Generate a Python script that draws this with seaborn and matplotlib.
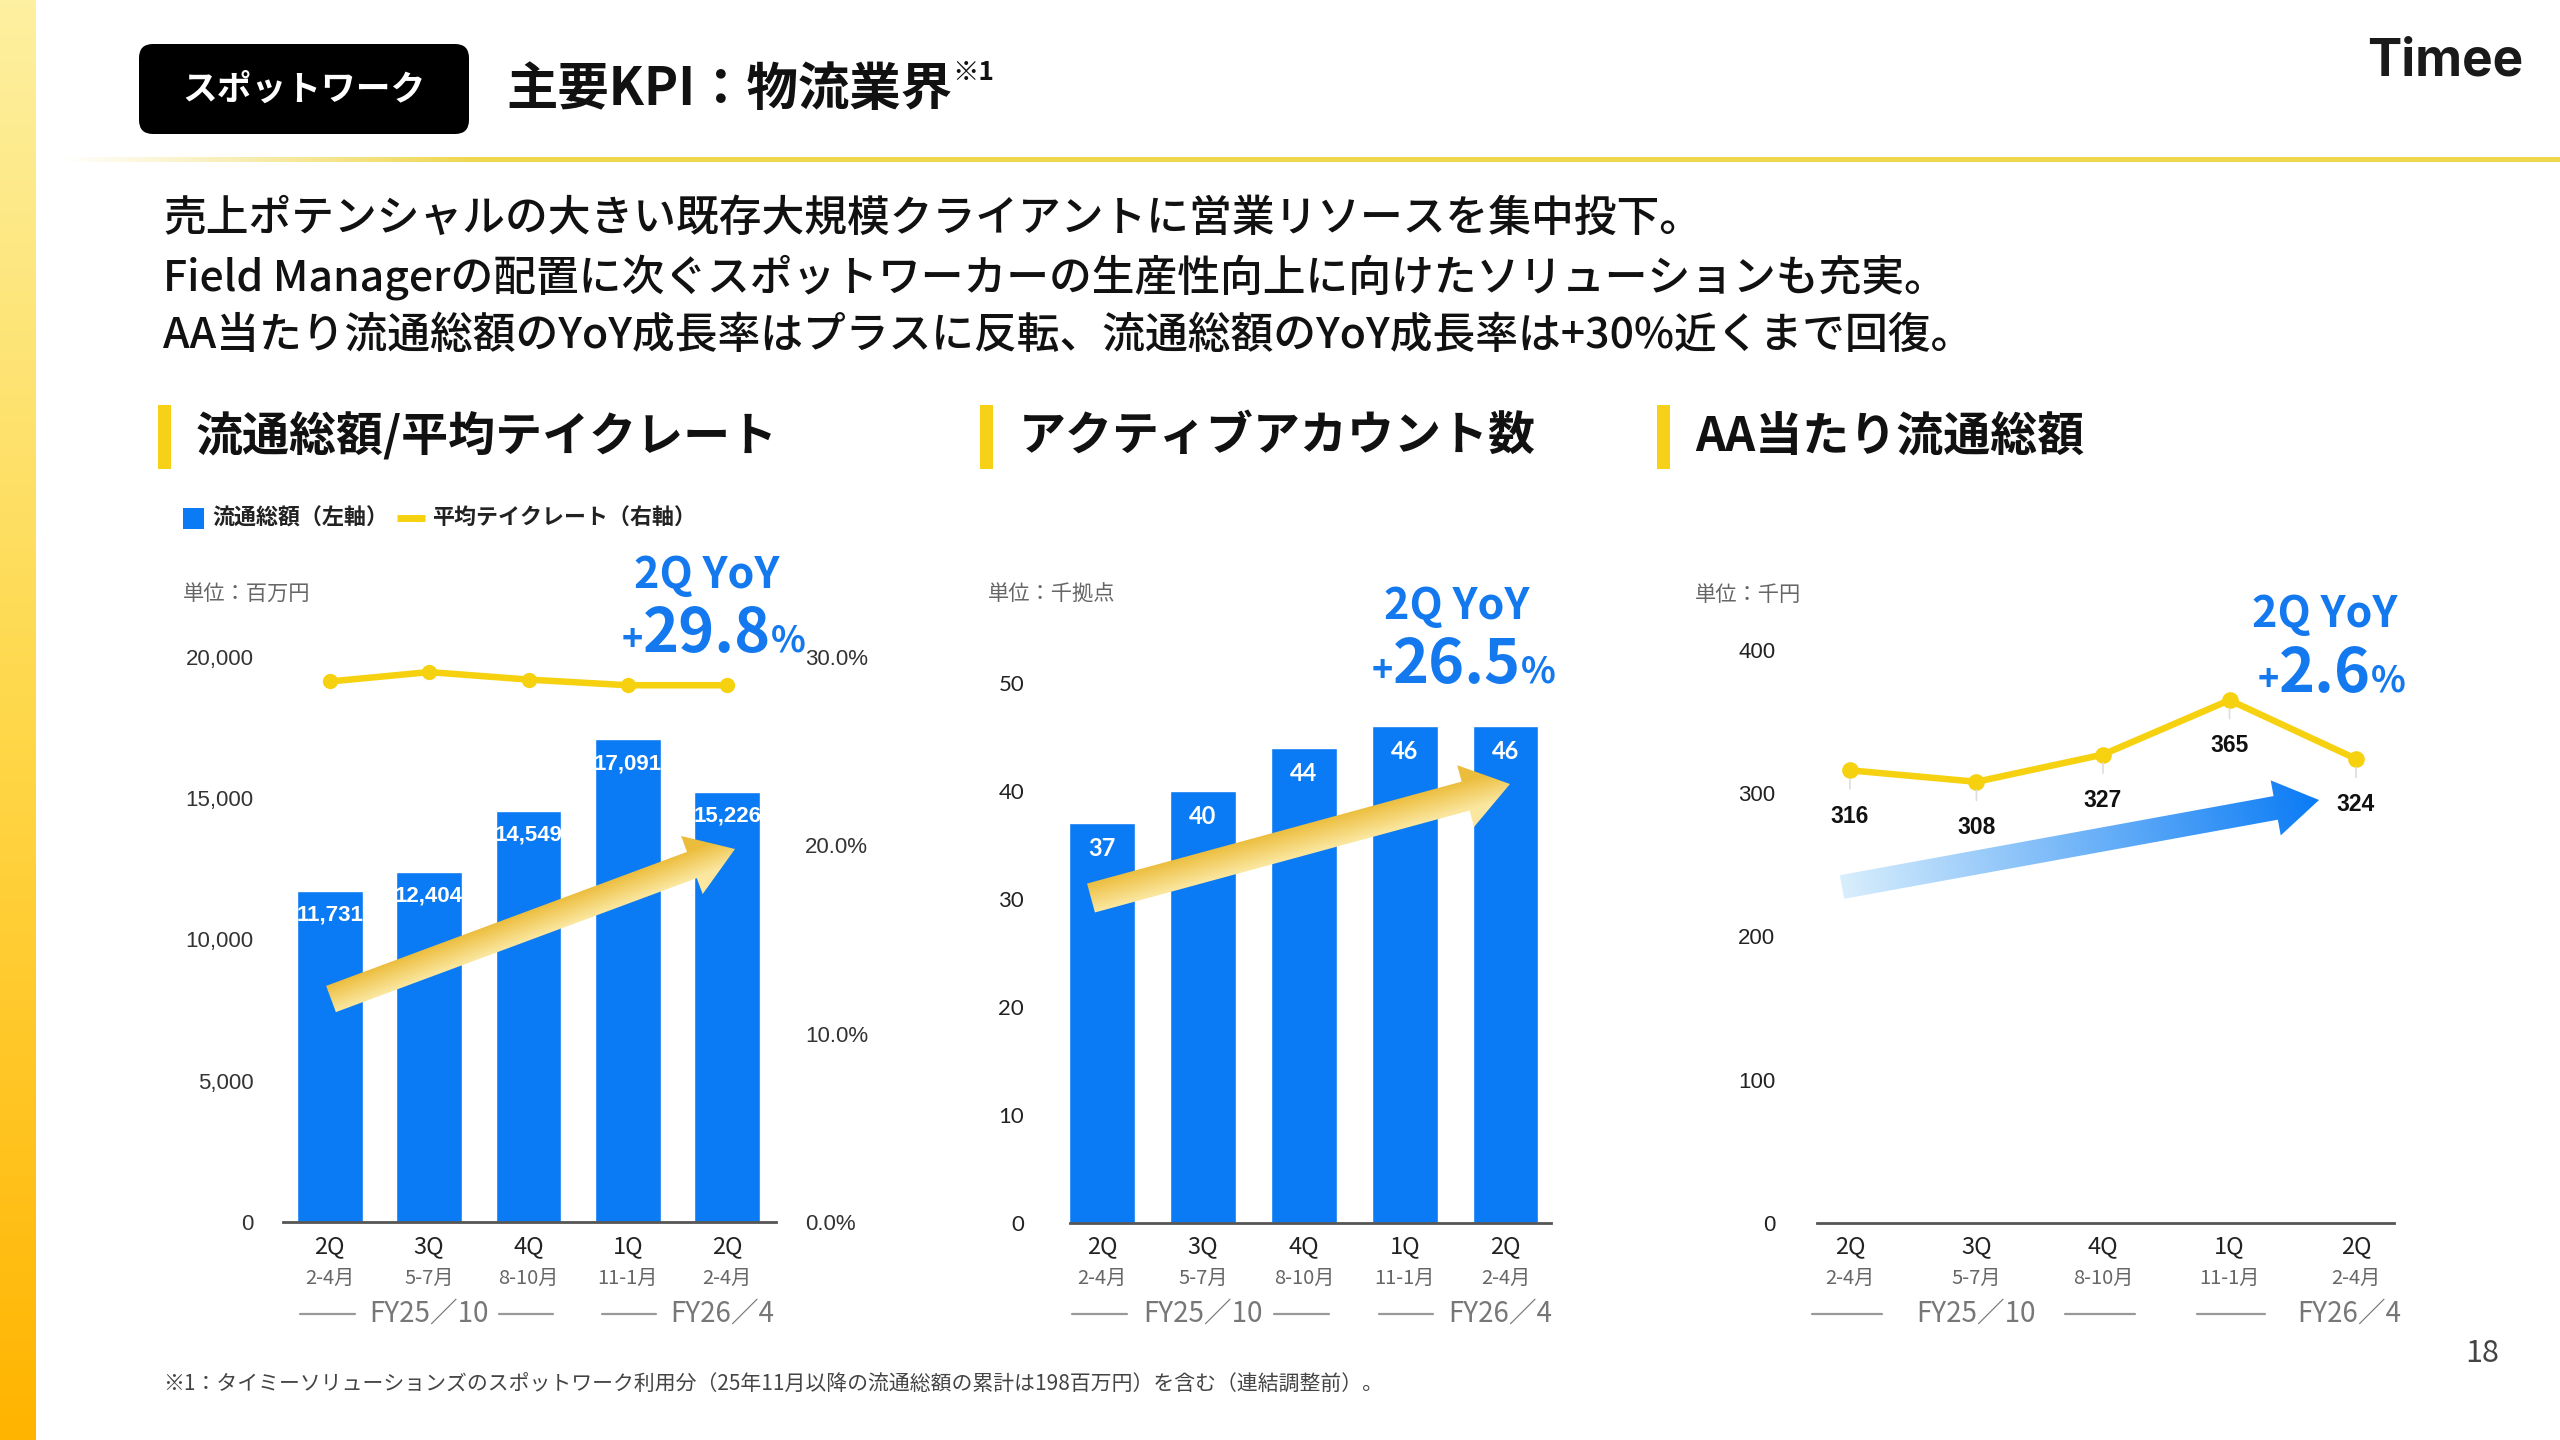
import numpy as np
import pandas as pd
import seaborn as sns
import matplotlib.pyplot as plt
import matplotlib.transforms as mtransforms
from matplotlib.patches import Polygon, FancyBboxPatch, Rectangle
from matplotlib.colors import LinearSegmentedColormap

# データ（スポットワーク 物流業界）
periods = ['FY25-2Q', 'FY25-3Q', 'FY25-4Q', 'FY26-1Q', 'FY26-2Q']
quarters = ['2Q', '3Q', '4Q', '1Q', '2Q']
months = ['2-4月', '5-7月', '8-10月', '11-1月', '2-4月']
fiscal_years = ['FY25／10', 'FY26／4']
gmv = [11731, 12404, 14549, 17091, 15226]        # 流通総額 百万円
take_rate = [28.7, 29.2, 28.8, 28.5, 28.5]       # 平均テイクレート %
active_accounts = [37, 40, 44, 46, 46]           # 千拠点
gmv_per_aa = [316, 308, 327, 365, 324]           # 千円
yoy_values = ['29.8', '26.5', '2.6']

BLUE = '#0A7BF5'
YOY_BLUE = '#1479EE'
YELLOW = '#F6D10F'
W, H = 2560, 1440

df = pd.DataFrame({'period': periods, 'pos': np.arange(len(periods)), 'gmv': gmv,
                   'take_rate': take_rate, 'aa': active_accounts, 'gmv_aa': gmv_per_aa})

sns.set_theme(style='white')
plt.rcParams['font.family'] = ['Noto Sans CJK JP', 'DejaVu Sans']

fig = plt.figure(figsize=(25.6, 14.4), dpi=100)
fig.patch.set_facecolor('white')


def box(x0, x1, y_top, y_bottom):
    return [x0 / W, 1 - y_bottom / H, (x1 - x0) / W, (y_bottom - y_top) / H]


ax1 = fig.add_axes(box(283, 776, 657, 1222))
ax2 = fig.add_axes(box(1070, 1551, 683, 1223))
ax3 = fig.add_axes(box(1817, 2394, 650, 1223))

# 1. 流通総額 / 平均テイクレート
sns.barplot(data=df, x='pos', y='gmv', native_scale=True, color=BLUE, saturation=1,
            width=0.66, ax=ax1)
for i, v in enumerate(gmv):
    ax1.annotate(f'{v:,}', (i, v), xytext=(0, -10), textcoords='offset points', ha='center',
                 va='top', color='white', fontsize=16, weight='bold', family='Liberation Sans')
tw = ax1.twinx()
sns.lineplot(data=df, x='pos', y='take_rate', ax=tw, color=YELLOW, lw=4.7, marker='o',
             markersize=11, markeredgewidth=0)
tw.set_ylim(0, 30)
tw.set_yticks([0, 10, 20, 30], labels=[f'{t:.1f}%' for t in [0, 10, 20, 30]],
              fontsize=16, color='#333', family='Liberation Sans')
tw.tick_params(axis='y', length=0, pad=21)
tw.set_ylabel('')
for s in tw.spines.values():
    s.set_visible(False)
ax1.set_ylim(0, 20000)
ax1.set_yticks([0, 5000, 10000, 15000, 20000],
               labels=[f'{t:,}' for t in [0, 5000, 10000, 15000, 20000]],
               fontsize=16, color='#333', family='Liberation Sans')
ax1.tick_params(axis='y', length=0, pad=21)

# 2. アクティブアカウント数
sns.barplot(data=df, x='pos', y='aa', native_scale=True, color=BLUE, saturation=1,
            width=0.65, ax=ax2)
for i, v in enumerate(active_accounts):
    ax2.annotate(f'{v}', (i, v), xytext=(0, -10), textcoords='offset points', ha='center',
                 va='top', color='white', fontsize=17, weight='bold', family='Lato')
ax2.set_ylim(0, 50)
ax2.set_yticks(range(0, 51, 10), labels=[str(t) for t in range(0, 51, 10)],
               fontsize=16, color='#222', family='Lato')
ax2.tick_params(axis='y', length=0, pad=33)

# 3. AA当たり流通総額
sns.lineplot(data=df, x='pos', y='gmv_aa', ax=ax3, color=YELLOW, lw=4.7, marker='o',
             markersize=12, markeredgewidth=0)
for i, v in enumerate(gmv_per_aa):
    ax3.annotate(f'{v}', (i, v), xytext=(0, -33), textcoords='offset points', ha='center',
                 va='center', color='#111', fontsize=16.5, weight='bold', family='Liberation Sans',
                 arrowprops=dict(arrowstyle='-', color='#dddddd', lw=1.2, shrinkA=9, shrinkB=6))
ax3.set_ylim(0, 400)
ax3.set_yticks(range(0, 401, 100), labels=[str(t) for t in range(0, 401, 100)],
               fontsize=16, color='#222', family='Liberation Sans')
ax3.tick_params(axis='y', length=0, pad=30)

for ax in (ax1, ax2, ax3):
    ax.patch.set_alpha(0)
    ax.set_xlabel('')
    ax.set_ylabel('')
    ax.tick_params(axis='x', bottom=False, labelbottom=False)
    for side in ('left', 'right', 'top'):
        ax.spines[side].set_visible(False)
    ax.spines['bottom'].set_color('#555555')
    ax.spines['bottom'].set_linewidth(2)
    ax.spines['bottom'].set_zorder(5)
    # x軸ラベル（四半期・月・年度）
    tr = mtransforms.blended_transform_factory(ax.transData, fig.transFigure)
    for i, (q, m) in enumerate(zip(quarters, months)):
        ax.text(i, 1 - 1247 / H, q, transform=tr, ha='center', va='center', fontsize=17,
                color='#222')
        ax.text(i, 1 - 1278 / H, m, transform=tr, ha='center', va='center', fontsize=14.5,
                color='#666')
    yf = 1 - 1314 / H
    ax.text(1.0, yf, fiscal_years[0], transform=tr, ha='center', va='center', fontsize=20,
            color='#777')
    ax.text(3.95, yf, fiscal_years[1], transform=tr, ha='center', va='center', fontsize=20,
            color='#777')
    for a, b in [(-0.3, 0.25), (1.7, 2.25), (2.74, 3.28)]:
        ax.plot([a, b], [yf, yf], transform=tr, color='#999999', lw=1.6, clip_on=False)

ax1.set_xlim(-0.47, 4.49)
tw.set_xlim(-0.47, 4.49)
ax2.set_xlim(-0.32, 4.45)
ax3.set_xlim(-0.26, 4.30)

# 装飾レイヤー（ピクセル座標）
deco = fig.add_axes([0, 0, 1, 1], zorder=5)
deco.patch.set_visible(False)
deco.axis('off')


def grad_arrow(tail, tip, shaft_w, head_w, head_l, c0, c1, across=False):
    p0 = np.array(tail, float)
    p1 = np.array(tip, float)
    d = p1 - p0
    L = np.hypot(*d)
    u = d / L
    n = np.array([-u[1], u[0]])
    neck = p1 - u * head_l
    pts = [p0 + n * shaft_w / 2, neck + n * shaft_w / 2, neck + n * head_w / 2, p1,
           neck - n * head_w / 2, neck - n * shaft_w / 2, p0 - n * shaft_w / 2]
    poly = Polygon(pts, closed=True, facecolor='none', edgecolor='none')
    deco.add_patch(poly)
    xs = [p[0] for p in pts]
    ys = [p[1] for p in pts]
    x0, x1, y0, y1 = min(xs) - 2, max(xs) + 2, min(ys) - 2, max(ys) + 2
    gx, gy = np.meshgrid(np.linspace(x0, x1, 400), np.linspace(y0, y1, 200))
    if across:
        t = ((gx - p0[0]) * n[0] + (gy - p0[1]) * n[1]) / shaft_w + 0.5
    else:
        t = ((gx - p0[0]) * u[0] + (gy - p0[1]) * u[1]) / L
    t = np.clip(t, 0, 1)
    cmap = LinearSegmentedColormap.from_list('g', [c0, c1])
    im = deco.imshow(cmap(t), extent=(x0, x1, y1, y0), origin='upper', aspect='auto',
                     zorder=3, interpolation='bilinear')
    im.set_clip_path(poly)


# 左端の黄色グラデーション帯
strip = LinearSegmentedColormap.from_list('s', ['#FDF0A0', '#FFD84A', '#FFB400'])
deco.imshow(strip(np.linspace(0, 1, 256))[:, None, :], extent=(0, 36, H, 0),
            origin='upper', aspect='auto', zorder=1)

# ヘッダー下の黄色ライン
line_rgba = np.zeros((1, 512, 4))
line_rgba[..., :3] = [0.94, 0.84, 0.30]
line_rgba[0, :, 3] = np.clip(np.linspace(0, 6, 512), 0, 1)
deco.imshow(line_rgba, extent=(60, W, 162, 157), origin='upper', aspect='auto', zorder=1)

deco.add_patch(FancyBboxPatch((139, 44), 330, 90, boxstyle='round,pad=0,rounding_size=14',
                              facecolor='black', edgecolor='none', zorder=2))
deco.text(304, 89, 'スポットワーク', ha='center', va='center', fontsize=25, weight='bold',
          color='white', zorder=4)
title = deco.text(506, 89, '主要KPI：物流業界', ha='left', va='center', fontsize=37,
                  weight='bold', color='#111')
deco.annotate('※1', xy=(1, 0.55), xycoords=title, ha='left', va='bottom', fontsize=19,
              weight='bold', color='#111')
deco.text(2445, 62, 'Timee', ha='center', va='center', fontsize=37, weight='bold',
          family='Inter', color='#1a1a1a')

body = ['売上ポテンシャルの大きい既存大規模クライアントに営業リソースを集中投下。',
        'Field Managerの配置に次ぐスポットワーカーの生産性向上に向けたソリューションも充実。',
        'AA当たり流通総額のYoY成長率はプラスに反転、流通総額のYoY成長率は+30%近くまで回復。']
for yy, line in zip([218, 277, 336], body):
    deco.text(163, yy, line, ha='left', va='center', fontsize=30.8, weight='medium', color='#111')

for (bx, tx, txt) in [(158, 196, '流通総額/平均テイクレート'), (980, 1019, 'アクティブアカウント数'),
                      (1657, 1695, 'AA当たり流通総額')]:
    deco.add_patch(Rectangle((bx, 405), 13, 64, facecolor='#F7D117', edgecolor='none'))
    deco.text(tx, 436, txt, ha='left', va='center', fontsize=33.8, weight='bold', color='#111')

# 凡例
deco.add_patch(Rectangle((183, 508), 21, 21, facecolor=BLUE, edgecolor='none'))
deco.text(212, 518, '流通総額（左軸）', ha='left', va='center', fontsize=15.8, weight='bold',
          color='#222')
deco.plot([397, 425], [518, 518], color=YELLOW, lw=5, solid_capstyle='butt')
deco.text(433, 518, '平均テイクレート（右軸）', ha='left', va='center', fontsize=15.8,
          weight='bold', color='#222')

for ux, ut in [(183, '単位：百万円'), (988, '単位：千拠点'), (1695, '単位：千円')]:
    deco.text(ux, 595, ut, ha='left', va='center', fontsize=15.3, color='#666')

# YoY
for cx, y_t, y_n, val in [(707, 575, 634, yoy_values[0]), (1457, 606, 665, yoy_values[1]),
                          (2325, 614, 674, yoy_values[2])]:
    deco.text(cx, y_t, '2Q YoY', ha='center', va='center', fontsize=31, weight='bold',
              color=YOY_BLUE)
    t = deco.text(cx, y_n, val, ha='center', va='center', fontsize=44, weight='bold',
                  color=YOY_BLUE)
    deco.annotate('+', xy=(0, 0.22), xycoords=t, ha='right', va='baseline', fontsize=26,
                  weight='bold', color=YOY_BLUE)
    deco.annotate('%', xy=(1, 0.22), xycoords=t, ha='left', va='baseline', fontsize=26,
                  weight='bold', color=YOY_BLUE)

# 矢印
grad_arrow((331, 999), (735, 849), 28, 62, 46, '#ECBD3C', '#FBE7A0', across=True)
grad_arrow((1091, 898), (1510, 784), 30, 64, 46, '#ECBD3C', '#FBE7A0', across=True)
grad_arrow((1842, 887), (2319, 800), 24, 56, 44, '#D8EEFC', BLUE)

deco.text(2482, 1354, '18', ha='center', va='center', fontsize=22, color='#444')
deco.text(163, 1385, '※1：タイミーソリューションズのスポットワーク利用分（25年11月以降の流通総額の累計は198百万円）を含む（連結調整前）。',
          ha='left', va='center', fontsize=15, color='#444')

deco.set_xlim(0, W)
deco.set_ylim(H, 0)

fig.savefig('out.png', dpi=100)
